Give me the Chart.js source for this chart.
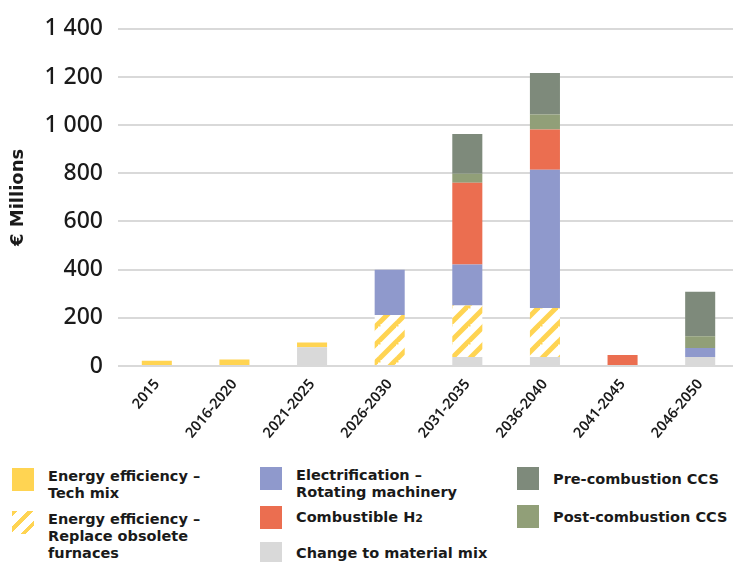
<!DOCTYPE html>
<html>
<head>
<meta charset="utf-8">
<script src="https://cdn.jsdelivr.net/npm/chart.js@4"></script>
<style>
    html, body {
        margin: 0;
        padding: 0;
        width: 733px;
        height: 562px;
        overflow: hidden;
        background: #ffffff;
        font-family: "DejaVu Sans", sans-serif;
    }
    #chart {
        position: absolute;
        left: 0;
        top: 0;
    }
    .legend-item {
        position: absolute;
        display: flex;
        align-items: flex-start;
        color: #1a1a1a;
        font-weight: 700;
        font-size: 14.5px;
        line-height: 17px;
        white-space: nowrap;
    }
    .swatch {
        width: 22px;
        height: 23px;
        flex: none;
        margin-right: 14px;
    }
    .hatch {
        background: repeating-linear-gradient(135deg, #FFD452 0 4px, #ffffff 4px 11px);
    }
    small { font-size: 11px; }
</style>
</head>
<body>
<canvas id="chart" width="740" height="455"></canvas>

<div class="legend-item" style="left:12px; top:468px;">
    <div class="swatch" style="background:#FFD452;"></div>
    <div>Energy efficiency –<br>Tech mix</div>
</div>
<div class="legend-item" style="left:12px; top:511px;">
    <div class="swatch hatch"></div>
    <div>Energy efficiency –<br>Replace obsolete<br>furnaces</div>
</div>
<div class="legend-item" style="left:260px; top:467px;">
    <div class="swatch" style="background:#8F99CC;"></div>
    <div>Electrification –<br>Rotating machinery</div>
</div>
<div class="legend-item" style="left:260px; top:506px;">
    <div class="swatch" style="background:#EB6E50;"></div>
    <div style="padding-top:3px;">Combustible H<small>2</small></div>
</div>
<div class="legend-item" style="left:260px; top:542px;">
    <div class="swatch" style="background:#D9D9D9;"></div>
    <div style="padding-top:3px;">Change to material mix</div>
</div>
<div class="legend-item" style="left:517px; top:467px;">
    <div class="swatch" style="background:#7E8A7B;"></div>
    <div style="padding-top:4px;">Pre-combustion CCS</div>
</div>
<div class="legend-item" style="left:517px; top:505px;">
    <div class="swatch" style="background:#919F78;"></div>
    <div style="padding-top:4px;">Post-combustion CCS</div>
</div>

<script>
// ===== DATA (€ millions per period) =====
const periods = ['2015', '2016-2020', '2021-2025', '2026-2030', '2031-2035', '2036-2040', '2041-2045', '2046-2050'];
const materialMix     = [0, 0, 78, 0, 37, 37, 0, 37];
const techMix         = [22, 27, 20, 0, 0, 0, 4, 0];
const replaceFurnaces = [0, 0, 0, 212, 214, 204, 0, 0];
const electrification = [0, 0, 0, 188, 170, 574, 0, 38];
const combustibleH2   = [0, 0, 0, 0, 340, 167, 42, 0];
const postCombustion  = [0, 0, 0, 0, 37, 62, 0, 48];
const preCombustion   = [0, 0, 0, 0, 165, 173, 0, 185];
const yTicks = [0, 200, 400, 600, 800, 1000, 1200, 1400];

// ===== HATCH PATTERN =====
function makeHatch() {
    const size = 18;
    const c = document.createElement('canvas');
    c.width = size;
    c.height = size;
    const g = c.getContext('2d');
    g.fillStyle = '#ffffff';
    g.fillRect(0, 0, size, size);
    g.strokeStyle = '#FFD452';
    g.lineWidth = 5;
    g.lineCap = 'square';
    // "/" stripes, drawn three times so the tile edges join up
    for (const k of [0, size, size * 2]) {
        g.beginPath();
        g.moveTo(0, k);
        g.lineTo(k, 0);
        g.stroke();
    }
    return g.createPattern(c, 'repeat');
}

function fmt(v) {
    return String(v).replace(/\B(?=(\d{3})+(?!\d))/g, ' ');
}

const ctx = document.getElementById('chart');
const hatch = makeHatch();

const common = { barPercentage: 0.387, categoryPercentage: 1, borderWidth: 0 };

new Chart(ctx, {
    type: 'bar',
    data: {
        labels: periods,
        datasets: [
            { label: 'Change to material mix', data: materialMix, backgroundColor: '#D9D9D9', ...common },
            { label: 'Energy efficiency – Tech mix', data: techMix, backgroundColor: '#FFD452', ...common },
            { label: 'Energy efficiency – Replace obsolete furnaces', data: replaceFurnaces, backgroundColor: hatch, ...common },
            { label: 'Electrification – Rotating machinery', data: electrification, backgroundColor: '#8F99CC', ...common },
            { label: 'Combustible H2', data: combustibleH2, backgroundColor: '#EB6E50', ...common },
            { label: 'Post-combustion CCS', data: postCombustion, backgroundColor: '#919F78', ...common },
            { label: 'Pre-combustion CCS', data: preCombustion, backgroundColor: '#7E8A7B', ...common }
        ]
    },
    options: {
        responsive: false,
        animation: false,
        layout: { padding: { top: 26, left: 0, right: 1, bottom: 0 } },
        plugins: {
            legend: { display: false },
            tooltip: { enabled: false }
        },
        scales: {
            x: {
                stacked: true,
                grid: { display: false },
                border: { display: false },
                ticks: {
                    color: '#1a1a1a',
                    maxRotation: 50,
                    minRotation: 50,
                    padding: 2,
                    font: { family: 'Noto Sans', size: 14.5, weight: '600' }
                },
                afterFit: (axis) => { axis.height = 89; }
            },
            y: {
                stacked: true,
                min: 0,
                max: 1400,
                afterBuildTicks: (axis) => { axis.ticks = yTicks.map(v => ({ value: v })); },
                grid: { color: '#d9d9d9', lineWidth: 2, drawTicks: false },
                border: { display: false },
                ticks: {
                    color: '#1a1a1a',
                    padding: 15,
                    font: { family: 'Noto Sans', size: 23, weight: '500' },
                    callback: (v) => fmt(v)
                },
                title: {
                    display: true,
                    text: '€ Millions',
                    color: '#1a1a1a',
                    padding: { top: 8, bottom: 0 },
                    font: { family: 'DejaVu Sans', size: 18, weight: '700' }
                },
                afterFit: (axis) => { axis.width = 118; }
            }
        }
    }
});
</script>
</body>
</html>
